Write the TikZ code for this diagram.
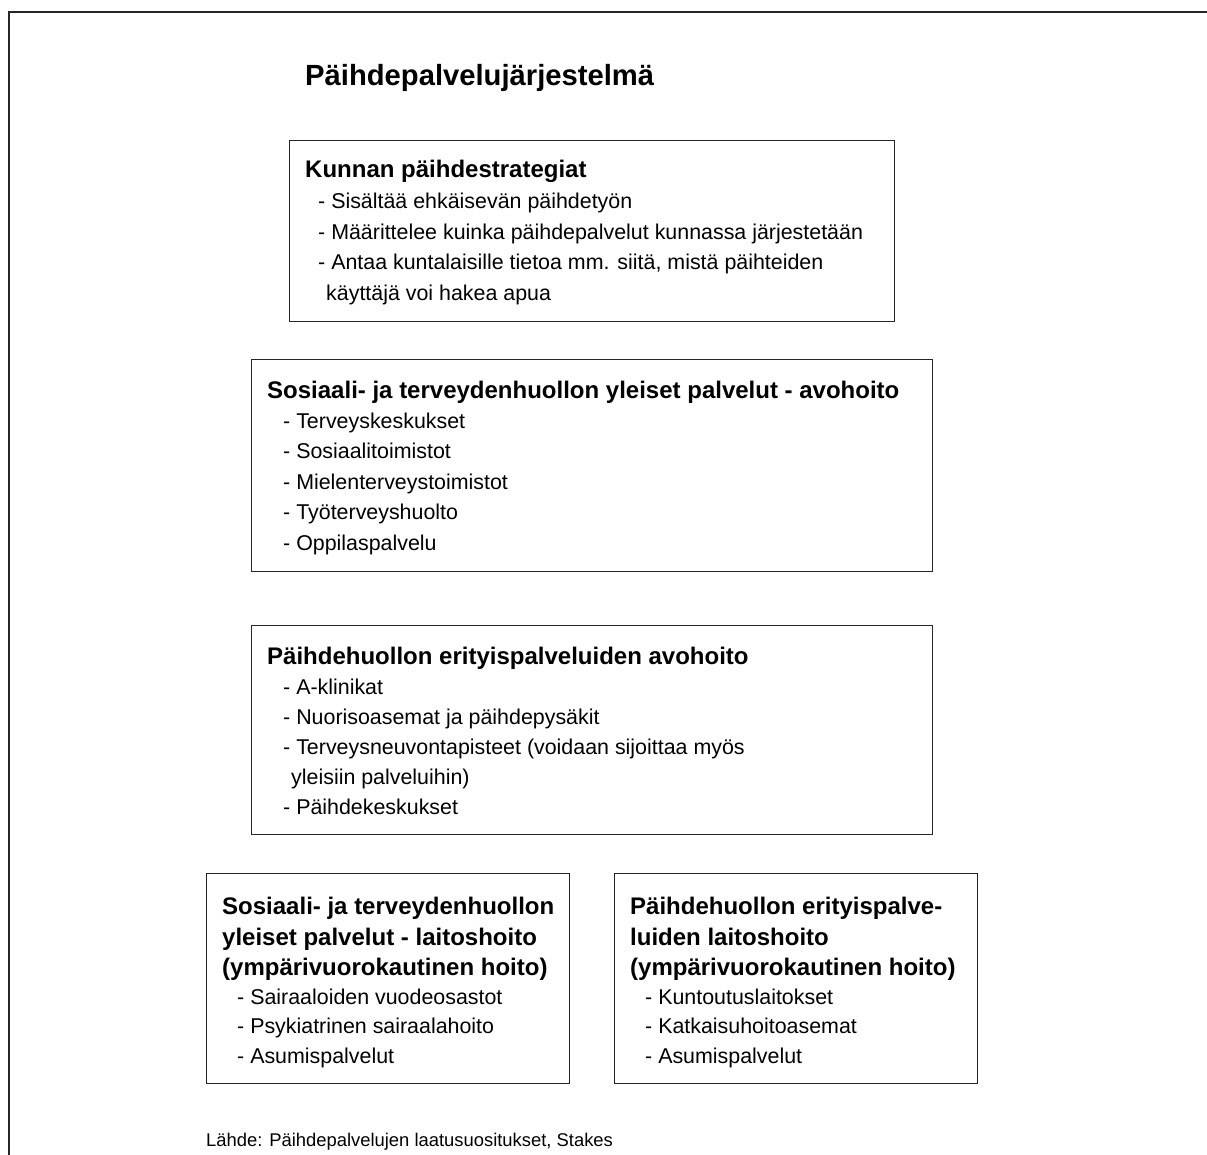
\documentclass[tikz,border=0pt]{standalone}
\usepackage{fontspec}
\setmainfont{Liberation Sans}
\begin{document}
\begin{tikzpicture}[x=1pt,y=-1pt,
  boxst/.style={draw=black!85,line width=1.3pt,anchor=north west,inner sep=0pt},
  head/.style={anchor=base west,inner sep=0pt,font=\fontsize{24}{24}\selectfont\bfseries},
  item/.style={anchor=base west,inner sep=0pt,font=\fontsize{21.4}{21.4}\selectfont},
  ttl/.style={anchor=base west,inner sep=0pt,font=\fontsize{29.2}{29.2}\selectfont\bfseries},
  src/.style={anchor=base west,inner sep=0pt,font=\fontsize{18.4}{18.4}\selectfont}]
\useasboundingbox (0,0) rectangle (1207,1155);
\coordinate (fa) at (9,1155);
\coordinate (fb) at (9,12);
\coordinate (fc) at (1207,12);
\draw[line width=2pt,black!85] (fa) -- (fb) -- (fc);
\node[ttl] (title) at (305,86) {Päihdepalvelujärjestelmä};
% box 1
\node[boxst,minimum width=605pt,minimum height=181pt] (b1) at (289,140) {};
\node[head] (b1h) at (305,178) {Kunnan päihdestrategiat};
\node[item] (b1a) at (318,209) {- Sisältää ehkäisevän päihdetyön};
\node[item] (b1b) at (318,240) {- Määrittelee kuinka päihdepalvelut kunnassa järjestetään};
\node[item] (b1c) at (318,270) {- Antaa kuntalaisille tietoa mm. siitä, mistä päihteiden};
\node[item] (b1d) at (326,301) {käyttäjä voi hakea apua};
% box 2
\node[boxst,minimum width=681pt,minimum height=212pt] (b2) at (251,359) {};
\node[head] (b2h) at (267,398) {Sosiaali- ja terveydenhuollon yleiset palvelut - avohoito};
\node[item] (b2a) at (283,428) {- Terveyskeskukset};
\node[item] (b2b) at (283,458) {- Sosiaalitoimistot};
\node[item] (b2c) at (283,489) {- Mielenterveystoimistot};
\node[item] (b2d) at (283,519) {- Työterveyshuolto};
\node[item] (b2e) at (283,550) {- Oppilaspalvelu};
% box 3
\node[boxst,minimum width=681pt,minimum height=209pt] (b3) at (251,625) {};
\node[head] (b3h) at (267,664) {Päihdehuollon erityispalveluiden avohoito};
\node[item] (b3a) at (283,694) {- A-klinikat};
\node[item] (b3b) at (283,724) {- Nuorisoasemat ja päihdepysäkit};
\node[item] (b3c) at (283,754) {- Terveysneuvontapisteet (voidaan sijoittaa myös};
\node[item] (b3d) at (291,784) {yleisiin palveluihin)};
\node[item] (b3e) at (283,814) {- Päihdekeskukset};
% box 4
\node[boxst,minimum width=363pt,minimum height=210pt] (b4) at (206,873) {};
\node[head] (b4h1) at (222,914) {Sosiaali- ja terveydenhuollon};
\node[head] (b4h2) at (222,945) {yleiset palvelut - laitoshoito};
\node[head] (b4h3) at (222,975) {(ympärivuorokautinen hoito)};
\node[item] (b4a) at (237,1004) {- Sairaaloiden vuodeosastot};
\node[item] (b4b) at (237,1033) {- Psykiatrinen sairaalahoito};
\node[item] (b4c) at (237,1063) {- Asumispalvelut};
% box 5
\node[boxst,minimum width=363pt,minimum height=210pt] (b5) at (614,873) {};
\node[head] (b5h1) at (630,914) {Päihdehuollon erityispalve-};
\node[head] (b5h2) at (630,945) {luiden laitoshoito};
\node[head] (b5h3) at (630,975) {(ympärivuorokautinen hoito)};
\node[item] (b5a) at (645,1004) {- Kuntoutuslaitokset};
\node[item] (b5b) at (645,1033) {- Katkaisuhoitoasemat};
\node[item] (b5c) at (645,1063) {- Asumispalvelut};
% source
\node[src] (source) at (206,1146) {Lähde: Päihdepalvelujen laatusuositukset, Stakes};
\end{tikzpicture}
\end{document}
